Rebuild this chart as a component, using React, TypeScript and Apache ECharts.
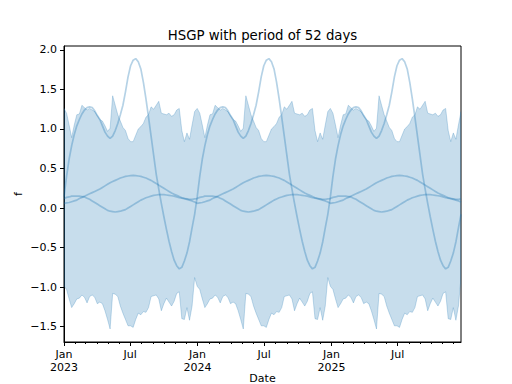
import React, { useEffect, useRef } from "react";
import * as echarts from "echarts";

// Weekly observations starting 2023-01-01, three years of data (156 weeks).
const START_DATE = "2023-01-01";
const N_WEEKS = 156;
const PERIOD = 52; // the HSGP is periodic with period 52: one period, repeated

// One 52-week period of each curve
const upperBand = [
  1.26, 1.2, 1.05, 0.89, 1.05, 1.18, 1.19, 1.3, 1.27, 1.24,
  1.26, 1.24, 1.22, 1.17, 1.12, 1.1, 1.04, 0.97, 1.01, 1.42,
  1.3, 1.18, 1.1, 1.02, 0.98, 0.88, 0.84, 0.84, 0.92, 1.0,
  1.03, 1.07, 1.15, 1.18, 1.28, 1.25, 1.3, 1.35, 1.2, 1.19,
  1.18, 1.2, 1.16, 1.18, 1.24, 1.26, 0.98, 0.84, 0.95, 0.87,
  1.05, 1.22,
];
const lowerBand = [
  -0.99, -1.03, -1.15, -1.26, -1.21, -1.15, -1.14, -1.1, -1.13, -1.2,
  -1.12, -1.1, -1.13, -1.21, -1.19, -1.21, -1.3, -1.41, -1.53, -1.08,
  -1.09, -1.12, -1.24, -1.33, -1.41, -1.49, -1.49, -1.51, -1.41, -1.33,
  -1.35, -1.31, -1.32, -1.26, -1.12, -1.11, -1.1, -1.15, -1.3, -1.21,
  -1.14, -1.19, -1.24, -1.18, -1.08, -1.06, -1.4, -1.41, -1.26, -1.42,
  -1.24, -0.88,
];
const sampleA = [
  0.14, 0.4, 0.62, 0.79, 0.93, 1.04, 1.12, 1.19, 1.24, 1.27,
  1.28, 1.27, 1.23, 1.17, 1.12, 1.04, 0.96, 0.91, 0.88, 0.91,
  0.98, 1.07, 1.18, 1.3, 1.47, 1.66, 1.8, 1.87, 1.89, 1.85,
  1.76, 1.59, 1.38, 1.15, 0.91, 0.67, 0.43, 0.24, 0.06, -0.11,
  -0.27, -0.42, -0.55, -0.66, -0.73, -0.77, -0.75, -0.67, -0.57, -0.43,
  -0.25, -0.08,
];
const sampleB = [
  0.06, 0.065, 0.07, 0.08, 0.09, 0.1, 0.12, 0.135, 0.15, 0.165,
  0.18, 0.195, 0.21, 0.225, 0.24, 0.26, 0.28, 0.3, 0.32, 0.335,
  0.35, 0.365, 0.38, 0.39, 0.4, 0.405, 0.41, 0.412, 0.41, 0.405,
  0.4, 0.39, 0.38, 0.365, 0.35, 0.33, 0.31, 0.29, 0.27, 0.25,
  0.23, 0.21, 0.19, 0.175, 0.16, 0.145, 0.13, 0.12, 0.11, 0.1,
  0.09, 0.075,
];
const sampleC = [
  0.12, 0.135, 0.14, 0.15, 0.15, 0.15, 0.15, 0.145, 0.14, 0.125,
  0.11, 0.09, 0.07, 0.05, 0.03, 0.01, -0.01, -0.03, -0.04, -0.045,
  -0.05, -0.045, -0.04, -0.03, -0.02, 0.0, 0.02, 0.04, 0.06, 0.08,
  0.1, 0.115, 0.13, 0.14, 0.15, 0.16, 0.165, 0.17, 0.17, 0.17,
  0.165, 0.16, 0.155, 0.15, 0.14, 0.13, 0.125, 0.12, 0.115, 0.11,
  0.11, 0.115,
];

const majorTickDates = ["2023-01-01", "2023-07-01", "2024-01-01", "2024-07-01", "2025-01-01", "2025-07-01"];
const minorTickYears = [2023, 2024, 2025];
const yTicks = [-1.5, -1.0, -0.5, 0.0, 0.5, 1.0, 1.5, 2.0];
const yRange = [-1.695, 2.05];

const TITLE = "HSGP with period of 52 days";
const X_LABEL = "Date";
const Y_LABEL = "f";
const MONTHS = ["Jan", "Feb", "Mar", "Apr", "May", "Jun", "Jul", "Aug", "Sep", "Oct", "Nov", "Dec"];

const C0 = "31,119,180";
const FONT = "DejaVu Sans";

export default function App() {
  const ref = useRef<HTMLDivElement>(null);

  useEffect(() => {
    if (!ref.current) return;
    const chart = echarts.init(ref.current, undefined, { renderer: "svg" });

    const DAY = 86400000;
    const t0 = Date.parse(START_DATE + "T00:00:00Z");
    const dates: number[] = [];
    for (let i = 0; i < N_WEEKS; i++) dates.push(t0 + i * 7 * DAY);
    const at = (arr: number[], i: number) => arr[i % PERIOD];

    const upperData = dates.map((d, i) => [d, at(upperBand, i)]);
    const lowerData = dates.map((d, i) => [d, at(lowerBand, i)]);
    const sA = dates.map((d, i) => [d, at(sampleA, i)]);
    const sB = dates.map((d, i) => [d, at(sampleB, i)]);
    const sC = dates.map((d, i) => [d, at(sampleC, i)]);

    const majorVals = majorTickDates.map((s) => Date.parse(s + "T00:00:00Z"));
    const minorVals: number[] = [];
    minorTickYears.forEach((y) => {
      for (let m = 0; m < 12; m++) minorVals.push(Date.UTC(y, m, 1));
    });

    const xMin = dates[0];
    const xMax = dates[dates.length - 1];

    const fill = `rgba(${C0},0.25)`;
    const sampleColor = `rgba(${C0},0.33)`;

    const sampleSeries = (data: number[][]) => ({
      type: "line",
      data,
      symbol: "none",
      showSymbol: false,
      smooth: false,
      lineStyle: { color: sampleColor, width: 1.7 },
      z: 5,
      silent: true,
    });

    const labelStyle = { fontFamily: FONT, fontSize: 11, color: "#000" };

    chart.setOption({
      animation: false,
      grid: {
        left: 64,
        right: 51,
        top: 46,
        bottom: 42,
        show: true,
        borderColor: "#000",
        borderWidth: 1,
        backgroundColor: "transparent",
      },
      xAxis: [
        {
          type: "value",
          min: xMin,
          max: xMax,
          position: "bottom",
          axisLine: { show: true, onZero: false, lineStyle: { color: "#000", width: 1 } },
          axisTick: { show: true, length: 4, customValues: majorVals, lineStyle: { color: "#000", width: 1 } },
          axisLabel: {
            ...labelStyle,
            customValues: majorVals,
            margin: 6,
            lineHeight: 13,
            hideOverlap: false,
            formatter: (v: number) => {
              const d = new Date(v);
              const m = d.getUTCMonth();
              return m === 0 ? `${MONTHS[m]}\n${d.getUTCFullYear()}` : MONTHS[m];
            },
          },
          splitLine: { show: false },
        },
        {
          type: "value",
          min: xMin,
          max: xMax,
          position: "bottom",
          axisLine: { show: false, onZero: false },
          axisTick: { show: true, length: 2, customValues: minorVals, lineStyle: { color: "#000", width: 1 } },
          axisLabel: { show: false },
          splitLine: { show: false },
        },
      ],
      yAxis: {
        type: "value",
        min: yRange[0],
        max: yRange[1],
        axisLine: { show: true, onZero: false, lineStyle: { color: "#000", width: 1 } },
        axisTick: { show: true, length: 4, customValues: yTicks, lineStyle: { color: "#000", width: 1 } },
        axisLabel: {
          ...labelStyle,
          customValues: yTicks,
          margin: 7,
          formatter: (v: number) => (v < 0 ? "\u2212" : "") + Math.abs(v).toFixed(1),
        },
        splitLine: { show: false },
      },
      graphic: [
        {
          type: "text",
          x: 262.5,
          y: 35,
          style: {
            text: TITLE,
            fontFamily: FONT,
            fontSize: 13.3,
            fill: "#000",
            textAlign: "center",
            textVerticalAlign: "middle",
          },
        },
        {
          type: "text",
          x: 262.5,
          y: 378,
          style: {
            text: X_LABEL,
            fontFamily: FONT,
            fontSize: 11,
            fill: "#000",
            textAlign: "center",
            textVerticalAlign: "middle",
          },
        },
        {
          type: "text",
          x: 18,
          y: 194,
          rotation: Math.PI / 2,
          style: {
            text: Y_LABEL,
            fontFamily: FONT,
            fontSize: 11,
            fill: "#000",
            textAlign: "center",
            textVerticalAlign: "middle",
          },
        },
      ],
      series: [
        {
          type: "custom",
          xAxisIndex: 0,
          yAxisIndex: 0,
          data: [[xMin, 0]],
          z: 2,
          silent: true,
          clip: true,
          renderItem: (_params: any, api: any) => {
            const up = upperData.map((p) => api.coord(p));
            const lo = lowerData.map((p) => api.coord(p));
            const poly = up.concat(lo.slice().reverse());
            return {
              type: "group",
              children: [
                { type: "polygon", shape: { points: poly }, style: { fill, stroke: fill, lineWidth: 1 } },
              ],
            };
          },
        },
        sampleSeries(sA),
        sampleSeries(sB),
        sampleSeries(sC),
      ],
    });

    return () => chart.dispose();
  }, []);

  return (
    <div
      ref={ref}
      style={{ position: "fixed", left: 0, top: 0, width: 512, height: 384, background: "#fff" }}
    />
  );
}
